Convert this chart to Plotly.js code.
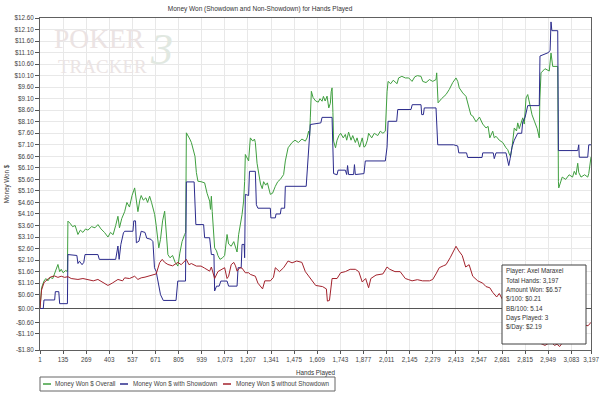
<!DOCTYPE html>
<html>
<head>
<meta charset="utf-8">
<script src="https://cdn.plot.ly/plotly-3.0.1.min.js"></script>
<style>html,body{margin:0;padding:0;background:#fff;}#chart{width:600px;height:396px;}</style>
</head>
<body>
<div id="chart"></div>
<script>
// ---- Data ----
const chartTitle = "Money Won (Showdown and Non-Showdown) for Hands Played";
const seriesNames = ["Money Won $ Overall", "Money Won $ with Showdown", "Money Won $ without Showdown"];

const overallHands = [1,10,24,35,47,60,75,86,100,105,115,124,135,150,160,163,175,190,205,221,235,250,265,279,300,320,337,355,375,395,410,425,440,453,462,475,492,505,520,535,550,560,569,580,588,600,615,625,637,648,656,666,675,690,700,712,724,733,743,755,770,785,801,812,825,840,846,850,860,870,879,890,900,908,917,935,956,970,985,990,995,1000,1014,1025,1033,1045,1060,1072,1086,1095,1110,1125,1135,1144,1153,1163,1173,1182,1188,1192,1200,1211,1221,1235,1245,1250,1260,1269,1280,1290,1298,1310,1320,1337,1350,1366,1380,1395,1414,1424,1440,1463,1480,1500,1520,1540,1550,1559,1565,1569,1575,1585,1600,1615,1625,1637,1645,1655,1666,1676,1685,1690,1695,1700,1704,1715,1724,1735,1745,1760,1772,1780,1791,1805,1815,1830,1840,1855,1870,1880,1888,1900,1907,1925,1940,1960,1975,1990,2004,2014,2020,2035,2050,2072,2081,2100,2120,2140,2159,2175,2190,2211,2221,2240,2260,2279,2298,2302,2306,2310,2330,2356,2375,2395,2414,2424,2433,2453,2472,2482,2491,2500,2511,2530,2550,2569,2588,2600,2610,2627,2636,2646,2665,2685,2704,2714,2723,2730,2739,2752,2765,2772,2781,2801,2810,2820,2830,2839,2855,2870,2885,2897,2900,2907,2930,2955,2965,2975,3004,3008,3010,3030,3050,3070,3090,3100,3110,3120,3126,3139,3160,3178,3184,3197];
const overallWon = [0,0.9,1.19,1.3,1.2,1.35,1.3,1.5,1.75,1.91,1.6,1.7,1.55,1.65,1.6,3.79,3.7,3.55,3.6,3.21,3.4,3.3,3.45,3.4,3.55,3.5,3.64,3.45,3.3,3.1,3.3,3.2,3.6,4.0,3.5,3.9,4.2,4.6,4.4,4.9,5.23,4.6,4.2,4.7,4.9,4.7,4.8,4.6,4.87,4.6,4.4,4.08,3.6,2.63,3.0,3.8,4.22,3.2,2.34,2.2,2.3,2.0,1.84,2.4,2.9,3.21,3.3,7.62,7.5,7.35,7.2,6.9,6.6,5.9,5.52,5.5,5.45,5.0,4.66,4.3,4.87,4.2,2.63,2.5,2.3,2.13,2.2,2.3,3.21,2.8,2.7,2.9,2.7,2.45,3.2,3.6,4.08,4.66,5.5,6.68,6.55,6.4,7.4,7.26,7.35,7.2,6.3,5.81,5.4,5.2,5.5,5.35,5.45,4.95,5.0,5.3,5.5,5.6,5.81,6.4,6.97,7.2,7.3,7.2,7.35,7.26,7.4,7.69,7.5,8.3,9.42,9.15,9.0,8.95,9.1,8.99,9.2,9.0,9.21,8.7,8.9,9.4,9.57,8.5,7.26,6.97,7.3,7.5,7.6,7.4,7.55,7.3,7.65,7.3,7.5,7.2,7.4,7.0,7.4,7.0,7.04,7.3,7.6,7.4,7.6,7.5,7.69,7.6,7.69,9.4,9.85,9.75,9.9,9.75,10.0,10.07,10.0,10.0,9.85,10.05,10.1,10.07,9.85,9.8,9.93,9.85,9.93,10.22,9.2,8.92,9.1,9.28,9.5,9.8,10.0,9.85,9.57,9.35,9.2,8.9,8.6,8.4,8.35,8.1,8.3,8.0,7.83,7.9,7.4,7.69,7.4,7.47,7.3,7.2,6.97,6.89,6.7,6.6,7.0,7.83,7.7,8.05,7.8,8.27,8.0,9.13,9.28,8.99,8.4,8.1,7.8,7.4,9.0,10.22,10.4,10.3,11.08,10.5,10.5,5.5,5.23,5.7,5.6,5.8,5.7,5.95,5.8,6.3,5.9,5.7,5.8,5.7,5.85,6.57];

const showdownHands = [1,20,24,86,90,110,115,160,163,215,221,230,245,255,262,337,345,440,453,460,470,485,492,540,545,555,560,575,588,610,620,645,656,665,675,690,700,716,790,800,845,850,895,905,950,956,985,995,1010,1014,1025,1040,1050,1086,1095,1144,1150,1168,1173,1185,1188,1192,1211,1216,1250,1256,1265,1337,1340,1366,1370,1395,1400,1420,1424,1545,1552,1569,1630,1637,1695,1700,1704,1724,1730,1772,1780,1785,1791,1820,1825,1830,1880,1888,2004,2014,2020,2070,2076,2153,2160,2211,2215,2225,2230,2298,2303,2308,2400,2424,2430,2475,2482,2565,2569,2630,2636,2646,2704,2714,2720,2728,2739,2752,2772,2795,2801,2815,2830,2897,2901,2950,2960,2965,2970,3004,3008,3120,3126,3129,3178,3184,3197];
const showdownWon = [0,0,0.37,0.37,0.73,0.73,0.21,0.21,2.34,2.3,1.95,2.05,1.9,2.0,2.34,2.34,2.13,2.13,2.71,2.13,2.78,3.28,3.35,3.35,3.8,3.8,2.85,2.92,3.35,3.3,3.05,3.0,2.9,1.77,1.6,1.0,0.6,0.35,0.35,1.19,1.19,5.49,5.49,3.64,3.64,3.07,3.07,2.34,2.34,0.76,0.97,0.97,1.19,1.19,0.97,0.97,1.77,1.77,2.78,2.78,2.2,4.95,4.9,5.95,5.95,4.5,4.35,4.35,3.93,3.93,4.1,4.1,4.35,4.35,5.3,5.3,6.24,7.98,8.05,8.29,8.29,6.5,5.85,5.8,6.0,6.0,5.81,6.2,5.81,5.81,6.24,5.81,5.85,6.4,6.4,7.0,8.12,8.12,8.63,8.63,8.84,8.84,8.41,8.41,8.70,8.70,7.5,7.1,7.1,7.05,6.75,6.75,6.55,6.55,6.75,6.75,6.5,6.75,6.75,6.46,6.2,6.5,7.0,7.3,7.6,7.6,8.1,8.3,8.8,8.8,10.95,11.1,11.2,12.43,12.05,12.05,6.85,6.85,7.1,6.56,6.56,7.1,7.1];

const nonShowdownHands = [1,10,24,35,50,66,86,105,124,144,163,182,221,250,279,310,337,365,395,420,453,480,492,520,550,569,588,610,637,656,675,695,710,724,743,770,801,820,840,850,865,879,908,935,956,985,995,1005,1014,1033,1060,1072,1086,1095,1110,1125,1135,1144,1160,1173,1192,1211,1221,1250,1265,1292,1305,1337,1355,1366,1390,1414,1440,1463,1490,1520,1540,1560,1580,1600,1640,1662,1668,1680,1695,1724,1745,1772,1800,1830,1850,1870,1890,1907,1920,1950,1990,2014,2030,2060,2090,2120,2140,2159,2190,2220,2260,2279,2298,2317,2340,2356,2380,2400,2414,2430,2450,2470,2490,2511,2540,2569,2588,2610,2627,2650,2665,2690,2704,2740,2800,2850,2900,2930,2965,2985,3000,3015,3030,3080,3150,3180,3197];
const nonShowdownWon = [0,0.8,1.12,1.2,1.3,1.38,1.41,1.35,1.4,1.35,1.38,1.3,1.26,1.3,1.26,1.2,1.26,1.12,1.0,1.1,1.26,1.2,1.33,1.3,1.4,1.26,1.33,1.36,1.41,1.45,1.5,1.99,2.13,2.0,1.91,1.85,2.0,1.9,2.06,2.13,1.9,1.95,1.84,1.84,1.75,1.62,1.8,1.5,1.3,1.6,1.7,1.77,1.3,1.4,1.9,2.0,1.85,1.62,1.77,1.75,1.55,1.55,1.48,1.4,1.1,0.85,1.2,1.2,1.35,1.77,1.6,1.77,2.06,1.98,2.06,2.0,1.6,1.4,1.2,1.0,0.95,0.85,0.32,0.35,1.3,1.3,1.55,1.6,1.7,1.7,1.6,1.15,1.3,0.9,1.3,1.45,1.5,1.8,1.7,1.6,1.6,1.3,1.25,1.2,1.25,1.2,1.2,1.26,1.5,1.77,1.85,1.9,2.2,2.5,2.7,2.5,2.3,1.8,1.9,1.4,1.2,1.1,0.95,0.9,0.7,0.5,0.65,0.3,0.1,-0.2,-0.6,-1.0,-1.5,-1.6,-1.45,-1.6,-1.55,-1.65,-1.5,-0.9,-0.7,-0.75,-0.6];

const xTickVals = [1,135,269,403,537,671,805,939,1073,1207,1341,1475,1609,1743,1877,2011,2145,2279,2413,2547,2681,2815,2949,3083,3197];
const yTickVals = [12.6,12.1,11.6,11.1,10.6,10.1,9.6,9.1,8.6,8.1,7.6,7.1,6.6,6.1,5.6,5.1,4.6,4.1,3.6,3.1,2.6,2.1,1.6,1.1,0.6,0,-0.6,-1.1,-1.8];
const yTickText = ["$12.60","$12.10","$11.60","$11.10","$10.60","$10.10","$9.60","$9.10","$8.60","$8.10","$7.60","$7.10","$6.60","$6.10","$5.60","$5.10","$4.60","$4.10","$3.60","$3.10","$2.60","$2.10","$1.60","$1.10","$0.60","$0.00","-$0.60","-$1.10","-$1.80"];
const infoLines = ["Player: Axel Maraxel","Total Hands: 3,197","Amount Won: $6.57","$/100: $0.21","BB/100: 5.14","Days Played: 3","$/Day: $2.19"];

// ---- Styles ----
const colors = ["#3f9f3f", "#2b2b8c", "#a3222c"];
const FONT = "Liberation Sans, Arial, sans-serif";
const fs = 6.3;

// layout helpers: pixel -> paper (plot area: x 40..591, y 18..350)
const PL = 40, PR = 591, PT = 18, PB = 350;
const px = v => (v - PL) / (PR - PL);
const py = v => (PB - v) / (PB - PT);

const traces = [
  {x: overallHands, y: overallWon, name: seriesNames[0]},
  {x: showdownHands, y: showdownWon, name: seriesNames[1]},
  {x: nonShowdownHands, y: nonShowdownWon, name: seriesNames[2]}
].map((t, i) => Object.assign(t, {
  type: "scatter", mode: "lines", line: {color: colors[i], width: 1}, showlegend: false, hoverinfo: "skip"
}));

const annotations = [];
const shapes = [];

// watermark logo (boxes placed edge to edge so they do not overlap)
const SERIF = "Liberation Serif, serif";
annotations.push({xref:"paper", yref:"paper", x:px(53), y:py(55), xanchor:"left", yanchor:"bottom", showarrow:false,
  borderpad:0, text:"POKER", font:{family:SERIF, size:27.5, color:"#ebe3e3"}});
annotations.push({xref:"paper", yref:"paper", x:px(57), y:py(55.5), xanchor:"left", yanchor:"top", showarrow:false,
  borderpad:0, text:"TRACKER", font:{family:SERIF, size:19, color:"#ebe4e4"}});
annotations.push({xref:"paper", yref:"paper", x:px(161), y:py(50), xanchor:"center", yanchor:"middle", showarrow:false,
  borderpad:0, text:"<i>3</i>", font:{family:SERIF, size:44, color:"#e1e8e1"}});

// legend (custom box below the chart)
shapes.push({type:"rect", xref:"paper", yref:"paper", x0:px(40), x1:px(335), y0:py(391), y1:py(377),
  line:{color:"#666", width:1}, fillcolor:"#fff", layer:"above"});
const legendGlyphX = [43, 120, 223];
const legendTextX = [53, 131, 234];
seriesNames.forEach((n, i) => {
  shapes.push({type:"line", xref:"paper", yref:"paper", x0:px(legendGlyphX[i]), x1:px(legendGlyphX[i] + 8),
    y0:py(384), y1:py(384), line:{color:colors[i], width:1.5}, layer:"above"});
  annotations.push({xref:"paper", yref:"paper", x:px(legendTextX[i]), y:py(384), xanchor:"left", yanchor:"middle",
    showarrow:false, text:n, font:{family:FONT, size:fs, color:"#444"}});
});

// info box
shapes.push({type:"rect", xref:"paper", yref:"paper", x0:px(502), x1:px(586), y0:py(344), y1:py(265),
  line:{color:"#404040", width:1}, fillcolor:"#fff", layer:"above"});
infoLines.forEach((t, i) => {
  annotations.push({xref:"paper", yref:"paper", x:px(504), y:py(270.7 + i * 9.4), xanchor:"left", yanchor:"middle",
    showarrow:false, text:t, font:{family:FONT, size:fs, color:"#333"}});
});

const layout = {
  width: 600, height: 396,
  margin: {l: PL, r: 600 - PR, t: PT, b: 396 - PB},
  paper_bgcolor: "#fff", plot_bgcolor: "#fff",
  font: {family: FONT, size: fs, color: "#444"},
  title: {text: chartTitle, x: 260 / 600, xanchor: "center", y: 1 - 9 / 396, yanchor: "middle",
    font: {family: FONT, size: 6.5, color: "#333"}},
  xaxis: {
    range: [1, 3197], tickvals: xTickVals, tickformat: ",", ticks: "outside", ticklen: 3, tickcolor: "#555",
    showgrid: true, gridcolor: "#e8e8e8", gridwidth: 1, zeroline: false,
    showline: true, linecolor: "#606060", linewidth: 1, mirror: true,
    tickfont: {family: FONT, size: fs, color: "#444"},
    title: {text: "Hands Played", font: {family: FONT, size: fs, color: "#333"}, standoff: 9}
  },
  yaxis: {
    range: [-1.8, 12.6], tickvals: yTickVals, ticktext: yTickText, ticks: "outside", ticklen: 4, tickcolor: "#555",
    showgrid: true, gridcolor: "#e8e8e8", gridwidth: 1,
    zeroline: true, zerolinecolor: "#555", zerolinewidth: 1,
    showline: true, linecolor: "#606060", linewidth: 1, mirror: true,
    tickfont: {family: FONT, size: fs, color: "#444"},
    title: {text: "Money Won $", font: {family: FONT, size: fs, color: "#333"}, standoff: 4}
  },
  showlegend: false,
  annotations: annotations,
  shapes: shapes,
  hovermode: false
};

Plotly.newPlot("chart", traces, layout, {displayModeBar: false, staticPlot: true});
</script>
</body>
</html>
